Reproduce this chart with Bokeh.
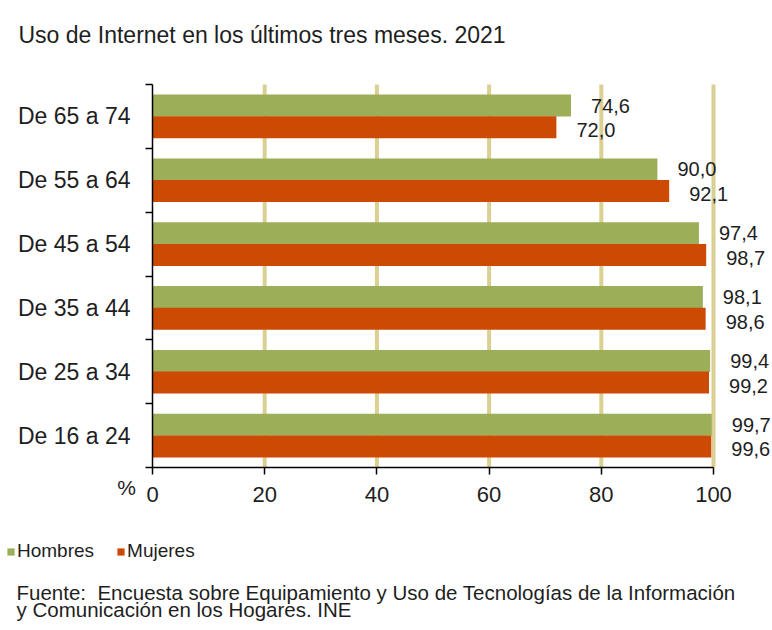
import numpy as np
from bokeh.plotting import figure
from bokeh.models import (FixedTicker, Range1d, ColumnDataSource, Label, Legend, LegendItem)
from bokeh.core.properties import value
from bokeh.embed import file_html
from bokeh.resources import INLINE

# ---- data ----
categories = ["De 16 a 24", "De 25 a 34", "De 35 a 44", "De 45 a 54", "De 55 a 64", "De 65 a 74"]
hombres = [99.7, 99.4, 98.1, 97.4, 90.0, 74.6]
mujeres = [99.6, 99.2, 98.6, 98.7, 92.1, 72.0]
x_ticks = [0, 20, 40, 60, 80, 100]
grid_ticks = [20, 40, 60, 80, 100]
title_text = "Uso de Internet en los últimos tres meses. 2021"
series_names = ["Hombres", "Mujeres"]
source_lines = ["Fuente:\u00a0 Encuesta sobre Equipamiento y Uso de Tecnologías de la Información",
                "y Comunicación en los Hogares. INE"]

GREEN = "#9cae58"
RED = "#cc4a04"
GRID = "#dccf93"
FONT = "Liberation Sans"
TXT = "#1e1e1e"

W, H = 772, 630
# page-pixel placement of the data area (x: 0..100, y: 0..6)
X0_PX, X100_PX = 152, 713
YTOP_PX, YBOT_PX = 84, 467
ppx = (X100_PX - X0_PX) / 100.0
ppy = (YBOT_PX - YTOP_PX) / len(categories)

x_range = Range1d(-X0_PX / ppx, (W - X0_PX) / ppx)
y_range = Range1d((YBOT_PX - H) / ppy, YBOT_PX / ppy)

def dx(px):
    return (px - X0_PX) / ppx

def dy(py):
    return (YBOT_PX - py) / ppy

p = figure(width=W, height=H, output_backend="svg", toolbar_location=None,
           x_range=x_range, y_range=y_range, min_border=0,
           background_fill_color="white", border_fill_color="white")
p.outline_line_color = None
p.xgrid.visible = False
p.ygrid.visible = False

idx = np.arange(len(categories))
centers = idx + 0.5
off = 0.17
bh = 0.345

# grid lines (tan), drawn from the tick values over the category span
p.segment(x0=grid_ticks, x1=grid_ticks, y0=[0] * len(grid_ticks),
          y1=[len(categories)] * len(grid_ticks), line_color=GRID, line_width=4)

src = ColumnDataSource(dict(
    yh=centers + off, ym=centers - off,
    h=hombres, m=mujeres,
    hl=[f"{v:.1f}".replace(".", ",") for v in hombres],
    ml=[f"{v:.1f}".replace(".", ",") for v in mujeres],
))

rh = p.hbar(y="yh", right="h", left=0, height=bh, source=src, fill_color=GREEN, line_color=None)
rm = p.hbar(y="ym", right="m", left=0, height=bh, source=src, fill_color=RED, line_color=None)

p.text(x="h", y="yh", text="hl", source=src, x_offset=20, y_offset=0,
       text_font=value(FONT), text_font_size="20px", text_color=TXT,
       text_align="left", text_baseline="middle")
p.text(x="m", y="ym", text="ml", source=src, x_offset=20, y_offset=3,
       text_font=value(FONT), text_font_size="20px", text_color=TXT,
       text_align="left", text_baseline="middle")

# x axis (fixed at y=0)
xa = p.xaxis[0]
xa.fixed_location = 0
xa.bounds = (0, 100)
xa.ticker = FixedTicker(ticks=x_ticks)
xa.major_tick_out = 7
xa.major_tick_in = 0
xa.minor_tick_line_color = None
xa.axis_line_color = "black"
xa.axis_line_width = 1.5
xa.major_tick_line_width = 1.5
xa.major_label_text_font = FONT
xa.major_label_text_font_size = "22px"
xa.major_label_text_color = TXT
xa.major_label_standoff = 12

# y axis (fixed at x=0)
ya = p.yaxis[0]
ya.fixed_location = 0
ya.bounds = (0, len(categories))
ya.ticker = FixedTicker(ticks=list(centers), minor_ticks=list(range(len(categories) + 1)))
ya.major_label_overrides = {float(c): cat for c, cat in zip(centers, categories)}
ya.major_tick_line_color = None
ya.major_tick_out = 7
ya.minor_tick_out = 7
ya.minor_tick_in = 0
ya.minor_tick_line_width = 1.5
ya.minor_tick_line_color = "black"
ya.axis_line_color = "black"
ya.axis_line_width = 1.5
ya.major_label_text_font = FONT
ya.major_label_text_font_size = "23px"
ya.major_label_text_color = TXT
ya.major_label_standoff = 15

p.add_layout(Label(x=dx(18), y=dy(34), text=title_text, text_font=FONT,
                   text_font_size="23px", text_color=TXT, text_baseline="alphabetic"))
p.add_layout(Label(x=dx(126), y=dy(487), text="%", text_font=FONT,
                   text_font_size="21px", text_color=TXT, text_align="center",
                   text_baseline="middle"))
p.add_layout(Label(x=dx(16), y=dy(592), text=source_lines[0], text_font=FONT,
                   text_font_size="20.5px", text_color=TXT, text_baseline="alphabetic"))
p.add_layout(Label(x=dx(16), y=dy(609), text=source_lines[1], text_font=FONT,
                   text_font_size="20.5px", text_color=TXT, text_baseline="alphabetic"))

legend = Legend(items=[LegendItem(label=series_names[0], renderers=[rh]),
                       LegendItem(label=series_names[1], renderers=[rm])],
                orientation="horizontal", location=(6, 68),
                glyph_width=9, glyph_height=9, label_standoff=2, spacing=22,
                padding=0, margin=0, border_line_color=None, background_fill_alpha=0,
                label_text_font=FONT, label_text_font_size="19px", label_text_color=TXT,
                label_height=20)
p.add_layout(legend, "center")

open("out.html", "w").write(file_html(p, INLINE))
